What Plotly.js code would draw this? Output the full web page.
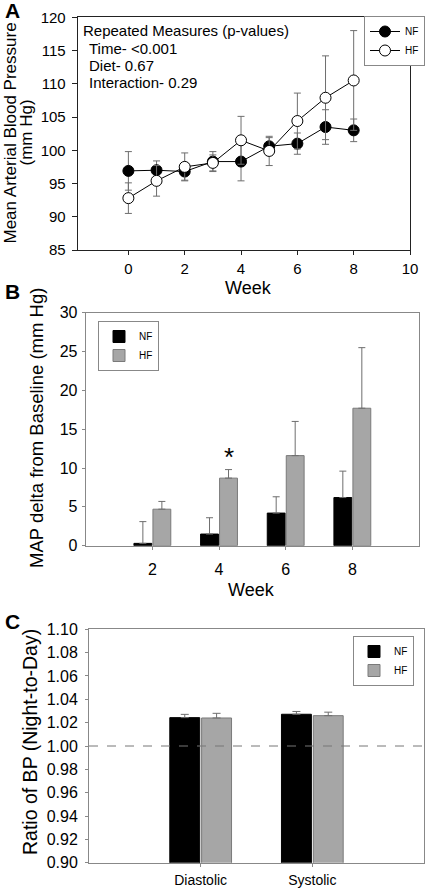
<!DOCTYPE html>
<html>
<head>
<meta charset="utf-8">
<script src="https://cdn.plot.ly/plotly-3.0.1.min.js"></script>
<style>html,body{margin:0;padding:0;background:#fff;}#chart{width:425px;height:889px;}</style>
</head>
<body>
<div id="chart"></div>
<script>
// ---------- Panel A: weekly mean arterial pressure ----------
const weeksA = [0, 1, 2, 3, 4, 5, 6, 7, 8];
const nfMAP = [96.9, 97.0, 96.8, 98.3, 98.3, 100.6, 101.0, 103.5, 103.0];
const nfMAPse = [2.9, 1.4, 1.3, 1.5, 2.9, 1.3, 1.6, 2.6, 1.7];
const hfMAP = [92.8, 95.4, 97.5, 98.1, 101.5, 99.9, 104.4, 107.9, 110.5];
const hfMAPse = [2.3, 2.3, 2.1, 1.2, 3.6, 2.2, 4.2, 6.3, 7.5];
const weekTicksA = [0, 2, 4, 6, 8, 10];

// ---------- Panel B: MAP change from baseline ----------
const weeksB = [2, 4, 6, 8];
const nfDelta = [0.3, 1.5, 4.2, 6.2];
const nfDeltaErr = [2.8, 2.1, 2.1, 3.4];
const hfDelta = [4.7, 8.7, 11.6, 17.7];
const hfDeltaErr = [1.0, 1.1, 4.4, 7.8];
const sigWeek = 4;          // week marked with asterisk
const sigLabel = '*';

// ---------- Panel C: night-to-day ratio ----------
const bpTypes = ['Diastolic', 'Systolic'];
const nfRatio = [1.0243, 1.0272];
const nfRatioErr = [0.0028, 0.0024];
const hfRatio = [1.0240, 1.0260];
const hfRatioErr = [0.0040, 0.0030];
const refLine = 1.00;

const pvalLines = ['Repeated Measures (p-values)', 'Time- <0.001', 'Diet- 0.67', 'Interaction- 0.29'];

const F = 'Liberation Sans, Arial, Helvetica, sans-serif';
const GRAY = '#a6a6a6';
const ERR = '#6e6e6e';

const traces = [
  {x: weeksA, y: nfMAP, name: 'NF', type: 'scatter', mode: 'lines+markers', xaxis: 'x', yaxis: 'y', legend: 'legend',
   line: {color: '#000', width: 1},
   marker: {symbol: 'circle', size: 11, color: '#000', line: {color: '#000', width: 1}},
   error_y: {type: 'data', array: nfMAPse, visible: true, color: ERR, thickness: 1, width: 3.5}},
  {x: weeksA, y: hfMAP, name: 'HF', type: 'scatter', mode: 'lines+markers', xaxis: 'x', yaxis: 'y', legend: 'legend',
   line: {color: '#000', width: 1},
   marker: {symbol: 'circle', size: 11, color: '#fff', line: {color: '#000', width: 1}},
   error_y: {type: 'data', array: hfMAPse, visible: true, color: ERR, thickness: 1, width: 3.5}},

  {x: weeksB, y: nfDelta, name: 'NF', type: 'bar', xaxis: 'x2', yaxis: 'y2', legend: 'legend2',
   marker: {color: '#000', line: {color: '#000', width: 1}},
   error_y: {type: 'data', symmetric: false, array: nfDeltaErr, arrayminus: nfDeltaErr.map(() => 0), visible: true, color: ERR, thickness: 1, width: 3.5}},
  {x: weeksB, y: hfDelta, name: 'HF', type: 'bar', xaxis: 'x2', yaxis: 'y2', legend: 'legend2',
   marker: {color: GRAY, line: {color: '#7a7a7a', width: 1}},
   error_y: {type: 'data', symmetric: false, array: hfDeltaErr, arrayminus: hfDeltaErr.map(() => 0), visible: true, color: ERR, thickness: 1, width: 3.5}},

  {x: bpTypes, y: nfRatio, name: 'NF', type: 'bar', xaxis: 'x3', yaxis: 'y3', legend: 'legend3',
   marker: {color: '#000', line: {color: '#000', width: 1}},
   error_y: {type: 'data', symmetric: false, array: nfRatioErr, arrayminus: nfRatioErr.map(() => 0), visible: true, color: ERR, thickness: 1, width: 4}},
  {x: bpTypes, y: hfRatio, name: 'HF', type: 'bar', xaxis: 'x3', yaxis: 'y3', legend: 'legend3',
   marker: {color: GRAY, line: {color: '#7a7a7a', width: 1}},
   error_y: {type: 'data', symmetric: false, array: hfRatioErr, arrayminus: hfRatioErr.map(() => 0), visible: true, color: ERR, thickness: 1, width: 4}}
];

const px = v => v / 425;
const py = v => 1 - v / 889;

const axBase = {showgrid: false, zeroline: false, showline: true, mirror: true, linewidth: 1,
  ticks: 'outside', tickwidth: 1, fixedrange: true};

function txt(text, x, y, size, extra) {
  return Object.assign({text: text, xref: 'paper', yref: 'paper', x: px(x), y: py(y),
    xanchor: 'center', yanchor: 'middle', showarrow: false, font: {size: size}}, extra || {});
}

const layout = {
  width: 425, height: 889,
  margin: {l: 0, r: 0, t: 0, b: 0},
  paper_bgcolor: '#fff', plot_bgcolor: '#fff',
  font: {family: F, color: '#000'},
  showlegend: true,
  barmode: 'group', bargap: 0.43, bargroupgap: 0.06,
  xaxis: Object.assign({}, axBase, {domain: [px(77.7), px(410)], anchor: 'y', range: [-1.8, 10],
    tickvals: weekTicksA, ticklen: 4, linecolor: '#222', tickcolor: '#222',
    tickfont: {size: 15}, ticklabelstandoff: 1}),
  yaxis: Object.assign({}, axBase, {domain: [py(250), py(17.3)], anchor: 'x', range: [85, 120],
    dtick: 5, ticklen: 5, linecolor: '#222', tickcolor: '#222', tickfont: {size: 15}, ticklabelstandoff: 3}),
  xaxis2: Object.assign({}, axBase, {domain: [px(85.7), px(419)], anchor: 'y2', range: [0, 10],
    tickvals: weeksB, ticklen: 3, linecolor: '#888', tickcolor: '#888',
    tickfont: {size: 16}, ticklabelstandoff: 6}),
  yaxis2: Object.assign({}, axBase, {domain: [py(545.7), py(312.7)], anchor: 'x2', range: [0, 30],
    dtick: 5, ticklen: 3, linecolor: '#888', tickcolor: '#888', tickfont: {size: 16}, ticklabelstandoff: 1}),
  xaxis3: Object.assign({}, axBase, {domain: [px(89), px(424)], anchor: 'y3', type: 'category',
    range: [-1, 2], ticklen: 3, linecolor: '#888', tickcolor: '#888',
    tickfont: {size: 14}, ticklabelstandoff: 1}),
  yaxis3: Object.assign({}, axBase, {domain: [py(862.7), py(629.3)], anchor: 'x3', range: [0.9, 1.1],
    dtick: 0.02, tickformat: '.2f', ticklen: 3, linecolor: '#888', tickcolor: '#888',
    tickfont: {size: 16}, ticklabelstandoff: 4}),

  legend: {x: px(364), y: py(16), xanchor: 'left', yanchor: 'top', bgcolor: '#fff',
    bordercolor: '#888', borderwidth: 1, font: {size: 10}, itemwidth: 30, tracegroupgap: 0},
  legend2: {x: px(98), y: py(321), xanchor: 'left', yanchor: 'top', bgcolor: '#fff',
    bordercolor: '#888', borderwidth: 1, font: {size: 10}, itemwidth: 30, tracegroupgap: 0},
  legend3: {x: px(353), y: py(636), xanchor: 'left', yanchor: 'top', bgcolor: '#fff',
    bordercolor: '#888', borderwidth: 1, font: {size: 10}, itemwidth: 30, tracegroupgap: 0},

  shapes: [
    {type: 'line', xref: 'x3 domain', yref: 'y3', x0: 0, x1: 1, y0: refLine, y1: refLine,
     line: {color: '#777', width: 1, dash: 'dash'}, layer: 'above'}
  ],

  annotations: [
    // panel letters
    txt('<b>A</b>', 12.5, 10.5, 21),
    txt('<b>B</b>', 12.5, 291.5, 21),
    txt('<b>C</b>', 12, 621.5, 21),
    // y titles
    txt('Mean Arterial Blood Pressure', 10.5, 133, 17, {textangle: -90}),
    txt('(mm Hg)', 26.5, 133, 17, {textangle: -90}),
    txt('MAP delta from Baseline (mm Hg)', 36, 428, 18.5, {textangle: -90}),
    txt('Ratio of BP (Night-to-Day)', 30, 742, 19.5, {textangle: -90}),
    // x titles
    txt('Week', 248, 288, 18),
    txt('Week', 251.7, 590, 18),
    // p-value box text
    txt(pvalLines[0], 81, 31, 15, {xanchor: 'left'}),
    txt(pvalLines[1], 87, 48.5, 15, {xanchor: 'left'}),
    txt(pvalLines[2], 87, 65.5, 15, {xanchor: 'left'}),
    txt(pvalLines[3], 87, 82.5, 15, {xanchor: 'left'}),
    // significance mark
    {text: sigLabel, xref: 'x2', yref: 'y2', x: sigWeek, xshift: 10, y: 11.4, xanchor: 'center', yanchor: 'middle',
     showarrow: false, font: {size: 26}}
  ]
};

Plotly.newPlot('chart', traces, layout, {displayModeBar: false, staticPlot: true});
</script>
</body>
</html>
